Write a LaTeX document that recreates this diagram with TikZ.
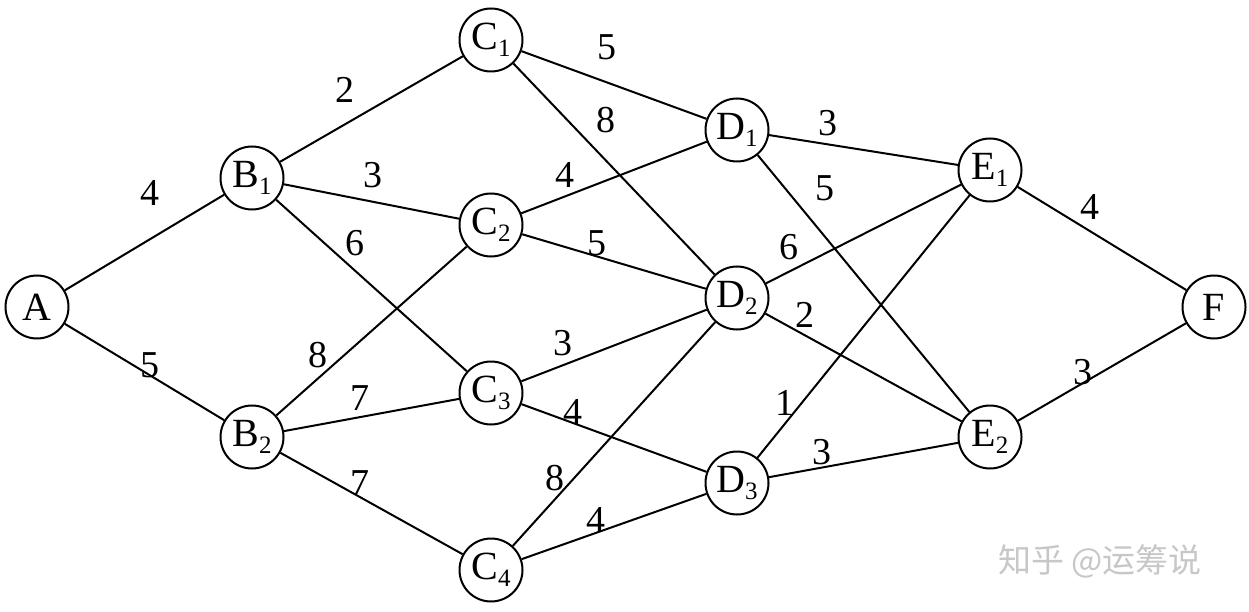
\documentclass[tikz,border=0pt]{standalone}
\usepackage{fontspec}
\setmainfont{Liberation Serif}
\newfontfamily\cjk{Noto Sans CJK SC}
\begin{document}
\begin{tikzpicture}[x=1pt,y=-1pt,
  vtx/.style={draw,circle,line width=2pt,minimum size=63pt,inner sep=0pt,font=\fontsize{40}{40}\selectfont},
  edge/.style={line width=2pt},
  wt/.style={font=\fontsize{38}{38}\selectfont,inner sep=0pt}]
\useasboundingbox (0,0) rectangle (1249,612);
\newcommand{\nd}[2]{#1\raisebox{-7pt}{\fontsize{25}{25}\selectfont#2}}
\node[vtx] (A) at (37,307) {A};
\node[vtx] (B1) at (252,178) {\nd{B}{1}};
\node[vtx] (B2) at (252,437) {\nd{B}{2}};
\node[vtx] (C1) at (491,40) {\nd{C}{1}};
\node[vtx] (C2) at (491,225) {\nd{C}{2}};
\node[vtx] (C3) at (491,393) {\nd{C}{3}};
\node[vtx] (C4) at (491,570) {\nd{C}{4}};
\node[vtx] (D1) at (737,130) {\nd{D}{1}};
\node[vtx] (D2) at (737,298) {\nd{D}{2}};
\node[vtx] (D3) at (737,483) {\nd{D}{3}};
\node[vtx] (E1) at (990,170) {\nd{E}{1}};
\node[vtx] (E2) at (990,437) {\nd{E}{2}};
\node[vtx] (F) at (1214,307) {F};
\draw[edge] (A) -- (B1);
\draw[edge] (A) -- (B2);
\draw[edge] (B1) -- (C1);
\draw[edge] (B1) -- (C2);
\draw[edge] (B1) -- (C3);
\draw[edge] (B2) -- (C2);
\draw[edge] (B2) -- (C3);
\draw[edge] (B2) -- (C4);
\draw[edge] (C1) -- (D1);
\draw[edge] (C1) -- (D2);
\draw[edge] (C2) -- (D1);
\draw[edge] (C2) -- (D2);
\draw[edge] (C3) -- (D2);
\draw[edge] (C3) -- (D3);
\draw[edge] (C4) -- (D2);
\draw[edge] (C4) -- (D3);
\draw[edge] (D1) -- (E1);
\draw[edge] (D1) -- (E2);
\draw[edge] (D2) -- (E1);
\draw[edge] (D2) -- (E2);
\draw[edge] (D3) -- (E1);
\draw[edge] (D3) -- (E2);
\draw[edge] (E1) -- (F);
\draw[edge] (E2) -- (F);
\node[wt] (w1) at (150,193) {4};
\node[wt] (w2) at (150,365) {5};
\node[wt] (w3) at (345,90) {2};
\node[wt] (w4) at (373,175) {3};
\node[wt] (w5) at (355,243) {6};
\node[wt] (w6) at (318,355) {8};
\node[wt] (w7) at (360,398) {7};
\node[wt] (w8) at (360,483) {7};
\node[wt] (w9) at (607,47) {5};
\node[wt] (w10) at (606,120) {8};
\node[wt] (w11) at (565,175) {4};
\node[wt] (w12) at (597,243) {5};
\node[wt] (w13) at (563,343) {3};
\node[wt] (w14) at (573,412) {4};
\node[wt] (w15) at (555,478) {8};
\node[wt] (w16) at (596,520) {4};
\node[wt] (w17) at (828,123) {3};
\node[wt] (w18) at (825,188) {5};
\node[wt] (w19) at (789,247) {6};
\node[wt] (w20) at (805,315) {2};
\node[wt] (w21) at (785,403) {1};
\node[wt] (w22) at (822,452) {3};
\node[wt] (w23) at (1090,207) {4};
\node[wt] (w24) at (1083,372) {3};
\node[text=black!22,font=\cjk\fontsize{33}{33}\selectfont,inner sep=0pt] (wm) at (1100,561) {知乎 @运筹说};
\end{tikzpicture}
\end{document}
